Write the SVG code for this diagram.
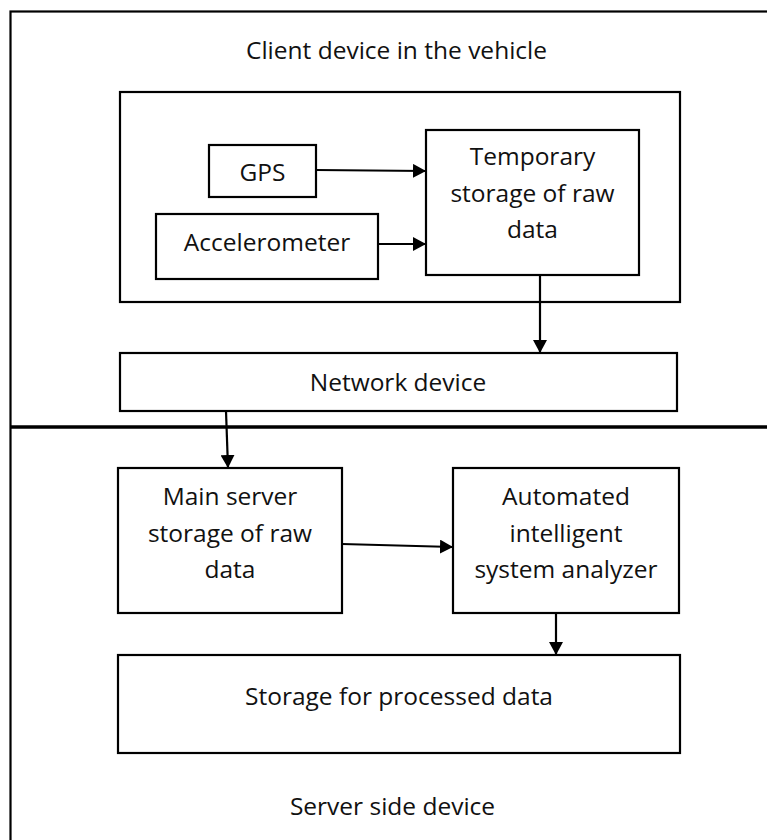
<svg xmlns="http://www.w3.org/2000/svg" width="767" height="840" viewBox="0 0 767 840">
<style>
  .box{fill:#fff;stroke:#000;stroke-width:2.2}
  .frame{fill:none;stroke:#000;stroke-width:2.2}
  .t{font-family:"Open Sans","Noto Sans","Liberation Sans",sans-serif;font-size:24.5px;fill:#111;text-anchor:middle}
  .c{fill:none;stroke:#000;stroke-width:2.2}
</style>
<defs>
  <marker id="ah" markerUnits="userSpaceOnUse" markerWidth="14" markerHeight="14" refX="13" refY="7" orient="auto">
    <path d="M0,0 L13,7 L0,14 z" fill="#000"/>
  </marker>
</defs>
<rect width="767" height="840" fill="#fff"/>
<g id="frame">
  <rect class="frame" x="10.5" y="11.5" width="800" height="900"/>
  <line x1="10" y1="427" x2="767" y2="427" stroke="#000" stroke-width="3.5"/>
  <text class="t" x="396.5" y="59">Client device in the vehicle</text>
  <text class="t" x="392.5" y="815">Server side device</text>
</g>
<g id="client">
  <rect class="box" x="120" y="92" width="560" height="210"/>
</g>
<g id="gps">
  <rect class="box" x="209" y="145" width="107" height="52"/>
  <text class="t" x="262.5" y="181">GPS</text>
</g>
<g id="accelerometer">
  <rect class="box" x="156" y="214" width="222" height="65"/>
  <text class="t" x="267" y="251">Accelerometer</text>
</g>
<g id="temp">
  <rect class="box" x="426" y="130" width="213" height="145"/>
  <text class="t" x="532.5" y="165">Temporary</text>
  <text class="t" x="532.5" y="202">storage of raw</text>
  <text class="t" x="532.5" y="238">data</text>
</g>
<g id="network">
  <rect class="box" x="120" y="353" width="557" height="58"/>
  <text class="t" x="398" y="391">Network device</text>
</g>
<g id="main">
  <rect class="box" x="118" y="468" width="224" height="145"/>
  <text class="t" x="230" y="505">Main server</text>
  <text class="t" x="230" y="542">storage of raw</text>
  <text class="t" x="230" y="578">data</text>
</g>
<g id="analyzer">
  <rect class="box" x="453" y="468" width="226" height="145"/>
  <text class="t" x="566" y="505">Automated</text>
  <text class="t" x="566" y="542">intelligent</text>
  <text class="t" x="566" y="578">system analyzer</text>
</g>
<g id="processed">
  <rect class="box" x="118" y="655" width="562" height="98"/>
  <text class="t" x="399" y="705">Storage for processed data</text>
</g>
<g id="connectors">
  <line class="c" x1="316" y1="170" x2="426" y2="171" marker-end="url(#ah)"/>
  <line class="c" x1="378" y1="244" x2="426" y2="244" marker-end="url(#ah)"/>
  <line class="c" x1="540" y1="275" x2="540" y2="353" marker-end="url(#ah)"/>
  <line class="c" x1="226" y1="411" x2="228" y2="468" marker-end="url(#ah)"/>
  <line class="c" x1="342" y1="544" x2="453" y2="547" marker-end="url(#ah)"/>
  <line class="c" x1="556" y1="613" x2="556" y2="655" marker-end="url(#ah)"/>
</g>
</svg>
